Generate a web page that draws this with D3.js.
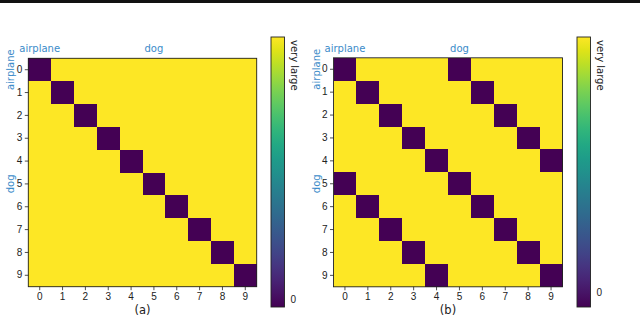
<!DOCTYPE html>
<html lang="en">
<head>
<meta charset="utf-8">
<title>Distance matrices</title>
<script src="https://cdn.jsdelivr.net/npm/d3@7"></script>
<style>
  body { margin: 0; background: #fff; }
  svg { display: block; font-family: "DejaVu Sans", sans-serif; }
  .axis path { display: none; }
  .axis line { stroke: #222; stroke-width: 0.8; }
  .axis text { font-size: 10px; fill: #222; }
  rect.cell { shape-rendering: crispEdges; }
</style>
</head>
<body>
<script>
var indices = [0, 1, 2, 3, 4, 5, 6, 7, 8, 9];
var classLabels = ["airplane", "dog"];
var classStart = [0, 5];
var panelTitles = ["(a)", "(b)"];
var cbarLabel = "very large";
var cbarTicks = [0];

// 0 = zero distance, 1 = "very large"
var matrixA = [
  [0,1,1,1,1,1,1,1,1,1],
  [1,0,1,1,1,1,1,1,1,1],
  [1,1,0,1,1,1,1,1,1,1],
  [1,1,1,0,1,1,1,1,1,1],
  [1,1,1,1,0,1,1,1,1,1],
  [1,1,1,1,1,0,1,1,1,1],
  [1,1,1,1,1,1,0,1,1,1],
  [1,1,1,1,1,1,1,0,1,1],
  [1,1,1,1,1,1,1,1,0,1],
  [1,1,1,1,1,1,1,1,1,0]
];
var matrixB = [
  [0,1,1,1,1,0,1,1,1,1],
  [1,0,1,1,1,1,0,1,1,1],
  [1,1,0,1,1,1,1,0,1,1],
  [1,1,1,0,1,1,1,1,0,1],
  [1,1,1,1,0,1,1,1,1,0],
  [0,1,1,1,1,0,1,1,1,1],
  [1,0,1,1,1,1,0,1,1,1],
  [1,1,0,1,1,1,1,0,1,1],
  [1,1,1,0,1,1,1,1,0,1],
  [1,1,1,1,0,1,1,1,1,0]
];
var cbarMin = [-0.03, -0.058];

var W = 640, H = 318;
var svg = d3.select("body").append("svg").attr("width", W).attr("height", H);

svg.append("rect").attr("x", 0).attr("y", 0).attr("width", W).attr("height", 3).attr("fill", "#111");

var defs = svg.append("defs");
var grad = defs.append("linearGradient").attr("id", "viridis")
  .attr("x1", 0).attr("y1", 1).attr("x2", 0).attr("y2", 0);
d3.range(0, 1.0001, 0.05).forEach(function(t) {
  grad.append("stop").attr("offset", t).attr("stop-color", d3.interpolateViridis(t));
});

var panels = [
  { m: matrixA, left: 28.3, top: 58.3, size: 228.4, cbx: 271, cbTop: 37, cbBot: 307 },
  { m: matrixB, left: 333.5, top: 57.8, size: 229, cbx: 577, cbTop: 37, cbBot: 307 }
];

panels.forEach(function(p, k) {
  var g = svg.append("g").attr("transform", "translate(" + p.left + "," + p.top + ")");
  var x = d3.scaleBand().domain(indices).range([0, p.size]);
  var y = d3.scaleBand().domain(indices).range([0, p.size]);

  var cells = [];
  p.m.forEach(function(row, i) {
    row.forEach(function(v, j) { cells.push({ r: i, c: j, v: v }); });
  });

  g.selectAll("rect.cell").data(cells).enter().append("rect")
    .attr("class", "cell")
    .attr("x", function(d) { return x(d.c); })
    .attr("y", function(d) { return y(d.r); })
    .attr("width", x.bandwidth() + 0.6)
    .attr("height", y.bandwidth() + 0.6)
    .attr("fill", function(d) { return d3.interpolateViridis(d.v); });

  g.append("rect").attr("width", p.size).attr("height", p.size)
    .attr("fill", "none").attr("stroke", "#222").attr("stroke-width", 0.9);

  g.append("g").attr("class", "axis")
    .call(d3.axisLeft(y).tickSize(3.5).tickPadding(2.5));
  g.append("g").attr("class", "axis")
    .attr("transform", "translate(0," + p.size + ")")
    .call(d3.axisBottom(x).tickSize(3.5).tickPadding(3));

  // class labels, top and left
  g.selectAll("text.ctop").data(classLabels).enter().append("text")
    .attr("class", "ctop")
    .attr("x", function(d, i) { return x(classStart[i]) + x.bandwidth() / 2; })
    .attr("y", -6)
    .attr("text-anchor", "middle")
    .attr("font-size", 10)
    .attr("fill", "#3b8bc9")
    .text(function(d) { return d; });

  g.selectAll("text.cleft").data(classLabels).enter().append("text")
    .attr("class", "cleft")
    .attr("transform", function(d, i) {
      return "translate(-14," + (y(classStart[i]) + y.bandwidth() / 2) + ") rotate(-90)";
    })
    .attr("text-anchor", "middle")
    .attr("font-size", 10)
    .attr("fill", "#3b8bc9")
    .text(function(d) { return d; });

  g.append("text")
    .attr("x", p.size / 2)
    .attr("y", p.size + 27)
    .attr("text-anchor", "middle")
    .attr("font-size", 11.5)
    .attr("fill", "#222")
    .text(panelTitles[k]);

  // colorbar
  var cbw = 13.5;
  var cs = d3.scaleLinear().domain([cbarMin[k], 1]).range([p.cbBot, p.cbTop]);
  svg.append("rect").attr("x", p.cbx).attr("y", p.cbTop)
    .attr("width", cbw).attr("height", p.cbBot - p.cbTop)
    .attr("fill", "url(#viridis)").attr("stroke", "#222").attr("stroke-width", 0.9);
  svg.append("g").attr("class", "axis")
    .attr("transform", "translate(" + (p.cbx + cbw) + ",0)")
    .call(d3.axisRight(cs).tickValues(cbarTicks).tickFormat(d3.format("d")).tickSize(0).tickPadding(6));
  svg.append("text")
    .attr("transform", "translate(" + (p.cbx + cbw + 6) + "," + (p.cbTop + 3) + ") rotate(90)")
    .attr("font-size", 10)
    .attr("fill", "#222")
    .text(cbarLabel);
});
</script>
</body>
</html>
